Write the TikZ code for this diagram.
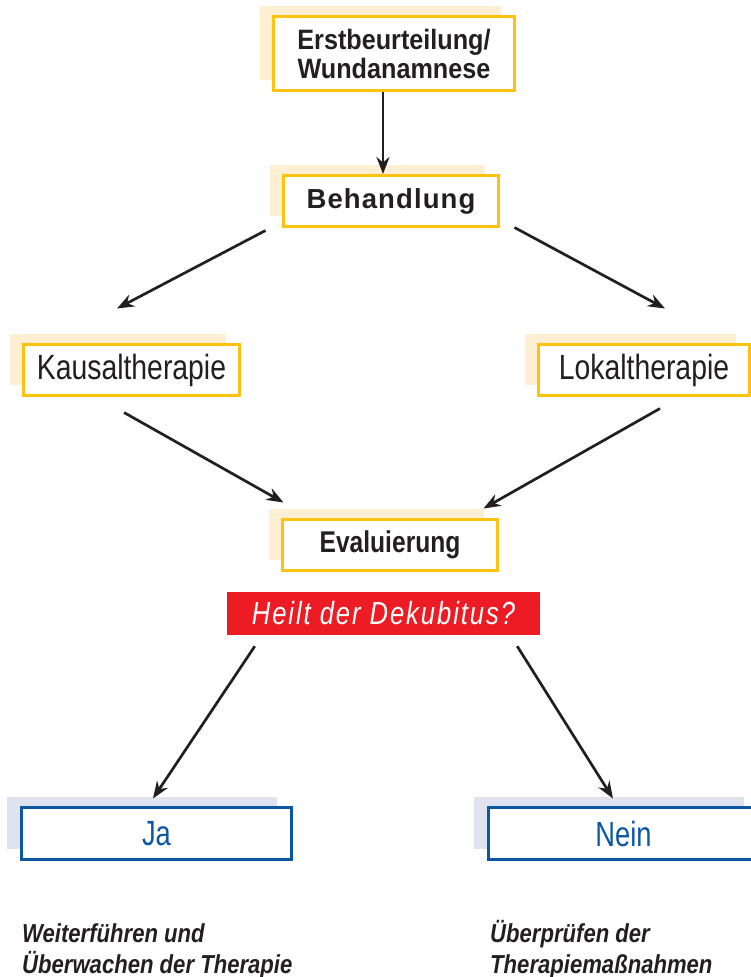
\documentclass[tikz,border=0pt]{standalone}
\usepackage{fontspec}
\setmainfont{Liberation Sans}
\newfontfamily\headfont[FakeStretch=0.9]{Liberation Sans}
\newfontfamily\wideheadfont[LetterSpace=4]{Liberation Sans}
\newfontfamily\narrowfont[FakeStretch=0.81]{Liberation Sans}
\newfontfamily\evalfont[FakeStretch=0.82]{Liberation Sans}
\newfontfamily\questfont[FakeStretch=0.8,LetterSpace=6]{Liberation Sans}
\newfontfamily\answerfont[FakeStretch=0.78]{Liberation Sans}
\newfontfamily\notefont[FakeStretch=0.85]{Liberation Sans}
\usetikzlibrary{arrows.meta,calc,shadows}

\definecolor{boxyellow}{HTML}{FFC20E}
\definecolor{boxcream}{HTML}{FEEFD2}
\definecolor{boxblue}{HTML}{0B57A4}
\definecolor{boxgrey}{HTML}{DFE3EF}
\definecolor{alertred}{HTML}{ED1C24}
\definecolor{inkgrey}{HTML}{231F20}

\begin{document}
\begin{tikzpicture}[> = {Stealth[length=17pt,width=13pt]}, x = 1pt, y = -1pt,
		ybox/.style = {draw=boxyellow, line width=3pt, fill=white, inner sep=0pt,
			minimum height=51pt, text=inkgrey,
			general shadow={fill=boxcream, shadow xshift=-14pt, shadow yshift=11pt}},
		bbox/.style = {draw=boxblue, line width=3pt, fill=white, inner sep=0pt,
			minimum width=270pt, minimum height=52pt, text=boxblue,
			font=\answerfont\fontsize{35}{40}\selectfont,
			general shadow={fill=boxgrey, shadow xshift=-15pt, shadow yshift=11pt}},
		note/.style = {anchor=base west, align=left, inner sep=0pt, text=inkgrey,
			font=\notefont\bfseries\itshape\fontsize{26}{31}\selectfont},
		arr/.style = {->, line width=2.7pt, draw=inkgrey}]
		\useasboundingbox (0,0) rectangle (750,977);
		% boxes
		\node[ybox, minimum width=241pt, minimum height=74pt, align=center,
			font=\headfont\bfseries\fontsize{28}{29}\selectfont] (erst) at (394,53.5) {Erstbeurteilung/\\Wundanamnese};
		\node[ybox, minimum width=215pt, font=\wideheadfont\bfseries\fontsize{27.5}{30}\selectfont] (beh) at (391,201) {Behandlung};
		\node[ybox, minimum width=216pt, font=\narrowfont\fontsize{35}{38}\selectfont] (kaus) at (131.5,370) {Kausaltherapie};
		\node[ybox, minimum width=211pt, font=\narrowfont\fontsize{35}{38}\selectfont] (lokal) at (644,370) {Lokaltherapie};
		\node[ybox, minimum width=215pt, font=\evalfont\bfseries\fontsize{30}{32}\selectfont] (eval) at (390,545) {Evaluierung};
		\node[fill=alertred, minimum width=313pt, minimum height=43pt, inner sep=0pt, text=white,
			font=\questfont\itshape\fontsize{32}{36}\selectfont] (frage) at (383.5,613.5) {Heilt der Dekubitus?};
		\node[bbox] (ja) at (156.5,833.5) {Ja};
		\node[bbox] (nein) at (623.5,833.5) {Nein};
		% arrows
		\draw[arr] ([xshift=-11pt]erst.south) -- ([xshift=-8pt]beh.north);
		\draw[arr] ($(beh.south west)+(-16.5,2.5)$) -- ($(kaus.north)+(-14.5,-34.5)$);
		\draw[arr] ($(beh.south east)+(14.5,-0.5)$) -- ($(lokal.north)+(21,-34.5)$);
		\draw[arr] ($(kaus.south)+(-7.5,15.5)$) -- ($(eval.north west)+(2.5,-15.5)$);
		\draw[arr] ($(lokal.south)+(16,11.5)$) -- ($(eval.north east)+(-15.5,-9.5)$);
		\draw[arr] ($(frage.south west)+(28,11)$) -- ($(ja.north)+(-3.5,-7.5)$);
		\draw[arr] ($(frage.south east)+(-23,11)$) -- ($(nein.north)+(-10.5,-7.5)$);
		% notes
		\node[note] (weiter) at (22,973) {Weiterführen und\\Überwachen der Therapie};
		\node[note] (pruefen) at (490,973) {Überprüfen der\\Therapiemaßnahmen};
\end{tikzpicture}
\end{document}
